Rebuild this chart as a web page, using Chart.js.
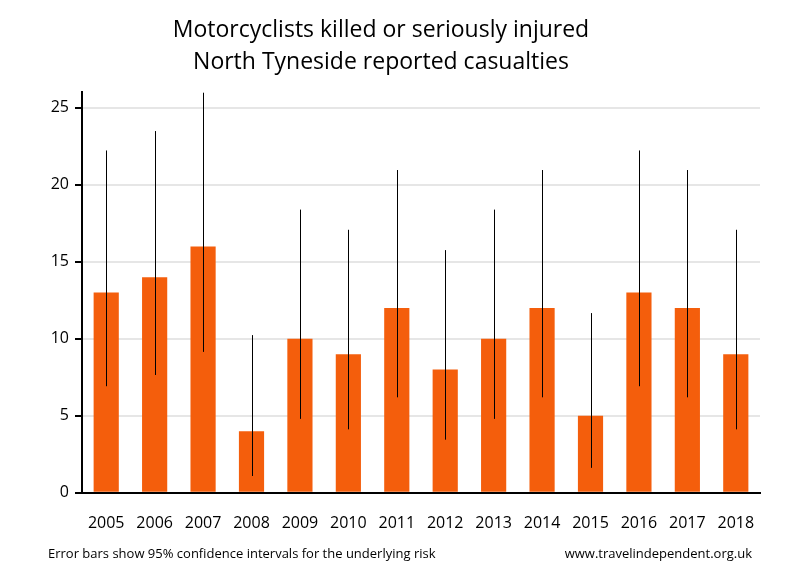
<!DOCTYPE html>
<html>
<head>
<meta charset="utf-8">
<script src="https://cdn.jsdelivr.net/npm/chart.js@4.4.0/dist/chart.umd.min.js"></script>
<style>
  html, body { margin: 0; padding: 0; background: #fff; }
  #wrap { width: 800px; height: 580px; position: relative; }
</style>
</head>
<body>
<div id="wrap"><canvas id="chart" width="800" height="580"></canvas></div>
<script>
const years = ['2005','2006','2007','2008','2009','2010','2011','2012','2013','2014','2015','2016','2017','2018'];
const casualties = [13, 14, 16, 4, 10, 9, 12, 8, 10, 12, 5, 13, 12, 9];
const lowerCI = [6.92, 7.65, 9.15, 1.09, 4.80, 4.12, 6.20, 3.45, 4.80, 6.20, 1.62, 6.92, 6.20, 4.12];
const upperCI = [22.23, 23.49, 25.98, 10.24, 18.39, 17.08, 20.96, 15.76, 18.39, 20.96, 11.67, 22.23, 20.96, 17.08];
const yTicks = [0, 5, 10, 15, 20, 25];

const FONT = "'Open Sans', sans-serif";

// draws the 95% CI lines on top of each bar
const errorBars = {
    id: 'errorBars',
    afterDatasetsDraw(chart) {
        const ctx = chart.ctx;
        const meta = chart.getDatasetMeta(0);
        const y = chart.scales.y;
        const area = chart.chartArea;
        ctx.save();
        ctx.strokeStyle = '#000';
        ctx.lineWidth = 1;
        meta.data.forEach((bar, i) => {
            const x = Math.round(bar.x) + 0.5;
            const y1 = Math.max(y.getPixelForValue(upperCI[i]), area.top);
            const y2 = y.getPixelForValue(lowerCI[i]);
            ctx.beginPath();
            ctx.moveTo(x, y1);
            ctx.lineTo(x, y2);
            ctx.stroke();
        });
        ctx.restore();
    }
};

// footer notes under the chart
const footNotes = {
    id: 'footNotes',
    afterDraw(chart) {
        const ctx = chart.ctx;
        ctx.save();
        ctx.font = "13px " + FONT;
        ctx.fillStyle = '#000';
        ctx.textBaseline = 'middle';
        ctx.textAlign = 'left';
        ctx.fillText('Error bars show 95% confidence intervals for the underlying risk', 48, 554);
        ctx.textAlign = 'right';
        ctx.fillText('www.travelindependent.org.uk', 752, 554);
        ctx.restore();
    }
};

const chart = new Chart(document.getElementById('chart'), {
    type: 'bar',
    data: {
        labels: years,
        datasets: [{
            data: casualties,
            backgroundColor: '#f45e0c',
            categoryPercentage: 1,
            barPercentage: 0.52
        }]
    },
    options: {
        responsive: false,
        animation: false,
        layout: { padding: { left: 2, right: 40, top: 0, bottom: 26 } },
        plugins: {
            legend: { display: false },
            tooltip: { enabled: false },
            title: {
                display: true,
                text: ['Motorcyclists killed or seriously injured', 'North Tyneside reported casualties'],
                color: '#000',
                font: { family: FONT, size: 23, weight: 'normal', lineHeight: 1.4 },
                padding: { top: 14, bottom: 14 }
            }
        },
        scales: {
            x: {
                grid: { display: false, drawTicks: false },
                border: { color: '#000', width: 2 },
                ticks: { color: '#000', padding: 21, font: { family: FONT, size: 16 } }
            },
            y: {
                min: 0,
                max: 26,
                afterFit(scale) { scale.width = 80; },
                afterBuildTicks(scale) { scale.ticks = yTicks.map(v => ({ value: v })); },
                grid: { color: '#e6e6e6', lineWidth: 2, tickLength: 7, tickColor: '#000', tickWidth: 2 },
                border: { color: '#000', width: 2 },
                ticks: { color: '#000', padding: 6, font: { family: FONT, size: 16 } }
            }
        }
    },
    plugins: [errorBars, footNotes]
});
</script>
</body>
</html>
